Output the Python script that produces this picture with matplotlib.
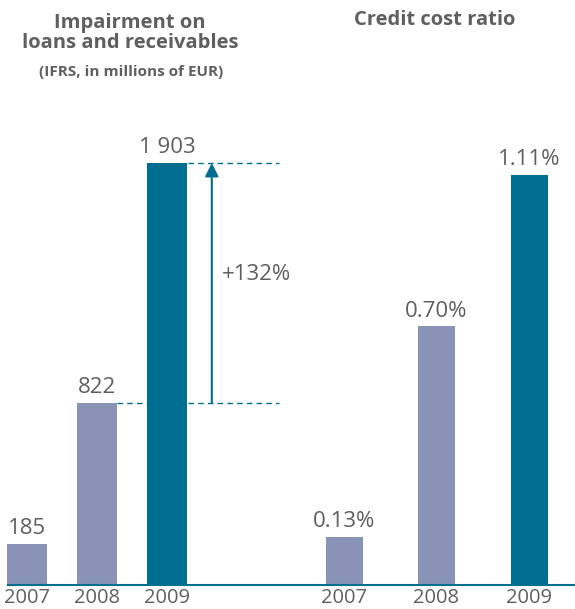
import matplotlib
matplotlib.use("Agg")
import matplotlib.pyplot as plt
from matplotlib.lines import Line2D

years = ["2007", "2008", "2009"]
impairment = [185, 822, 1903]
impairment_labels = ["185", "822", "1 903"]
ccr = [0.13, 0.70, 1.11]
ccr_labels = ["0.13%", "0.70%", "1.11%"]
growth_label = "+132%"

GREY_BLUE = "#8893B6"
TEAL = "#006E91"
TXT = "#5F5F5F"
FONT = "Open Sans"

W, H = 575, 609
fig = plt.figure(figsize=(W / 100, H / 100), dpi=100)
fig.patch.set_facecolor("white")


def fx(px):
    return px / W


def fy(py):
    return 1 - py / H


base_px = 585
top_px = 100
colors = [GREY_BLUE, GREY_BLUE, TEAL]
dash = (0, (4, 3))

# ── left panel: impairment ───────────────────────────────────────────────
axL = fig.add_axes([fx(0), fy(base_px), fx(290), (base_px - top_px) / H])
axL.set_xlim(-27 / 70, (290 - 27) / 70)
axL.set_ylim(0, impairment[2] * (base_px - top_px) / 422)
axL.bar(range(3), impairment, width=0.56, color=colors)
for i, (v, lab) in enumerate(zip(impairment, impairment_labels)):
    axL.annotate(lab, (i, v), xytext=(0, 7), textcoords="offset points",
                 ha="center", va="baseline", fontsize=16, color=TXT, family=FONT)

# dashed reference lines + growth arrow
axL.plot([2.3, 3.6], [impairment[2]] * 2, ls=dash, color=TEAL, lw=1)
axL.plot([1.29, 1.72], [impairment[1]] * 2, ls=dash, color=TEAL, lw=1)
axL.plot([2.3, 3.6], [impairment[1]] * 2, ls=dash, color=TEAL, lw=1)
axL.annotate("", xy=(2.64, impairment[2]), xytext=(2.64, impairment[1]),
             arrowprops=dict(arrowstyle="-|>", color=TEAL, lw=1.5,
                             mutation_scale=20, shrinkA=0, shrinkB=0))
axL.annotate(growth_label, (2.79, (impairment[1] + impairment[2]) / 2),
             xytext=(0, 6), textcoords="offset points",
             ha="left", va="center", fontsize=16, color=TXT, family=FONT)

# ── right panel: credit cost ratio ───────────────────────────────────────
axR = fig.add_axes([fx(290), fy(base_px), fx(285), (base_px - top_px) / H])
axR.set_xlim(-54 / 92.5, (285 - 54) / 92.5)
axR.set_ylim(0, ccr[2] * (base_px - top_px) / 410)
axR.bar(range(3), ccr, width=0.4, color=colors)
for i, (v, lab) in enumerate(zip(ccr, ccr_labels)):
    axR.annotate(lab, (i, v), xytext=(0, 7), textcoords="offset points",
                 ha="center", va="baseline", fontsize=16, color=TXT, family=FONT)

# year labels under the baseline
for ax in (axL, axR):
    ax.axis("off")
    for i, y in enumerate(years):
        ax.annotate(y, (i, 0), xytext=(0, -13), textcoords="offset points",
                    ha="center", va="baseline", fontsize=14.5, color=TXT,
                    family=FONT, annotation_clip=False)

# baseline
fig.add_artist(Line2D([fx(8), fx(575)], [fy(base_px), fy(base_px)],
                      color=TEAL, lw=1.5))

# titles
fig.text(fx(130), fy(33), "Impairment on\nloans and receivables", ha="center",
         va="center", fontsize=14.5, fontweight="bold", color=TXT, family=FONT,
         linespacing=1.05)
fig.text(fx(131), fy(72), "(IFRS, in millions of EUR)", ha="center",
         va="center", fontsize=11, fontweight="bold", color=TXT, family=FONT)
fig.text(fx(435), fy(20), "Credit cost ratio", ha="center", va="center",
         fontsize=14.5, fontweight="bold", color=TXT, family=FONT)

fig.savefig("out.png", dpi=100, facecolor="white")
